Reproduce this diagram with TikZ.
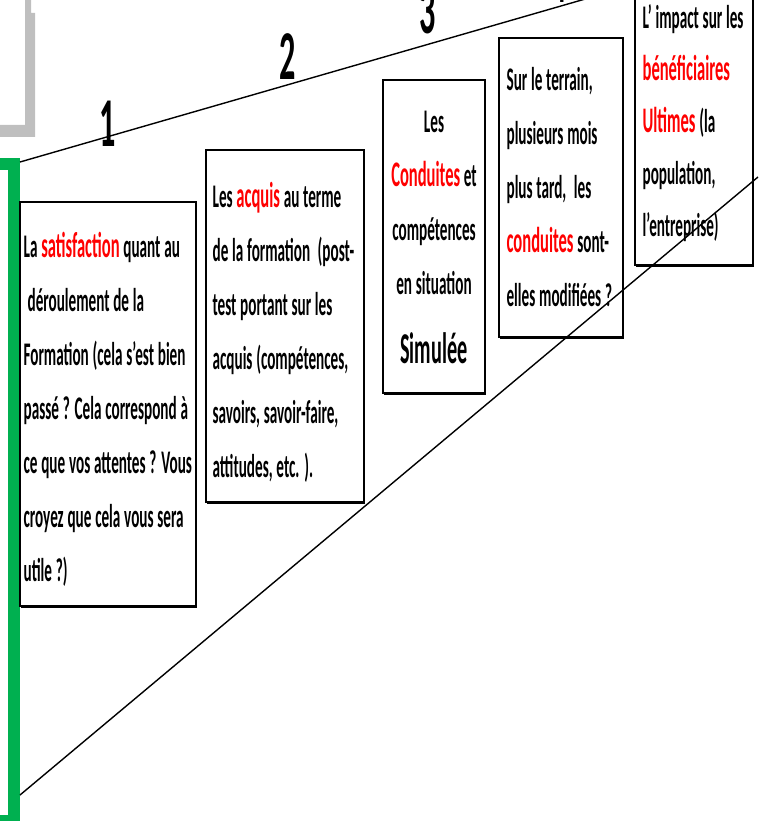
\documentclass[tikz,border=0pt]{standalone}
\usepackage{fontspec}
\setmainfont{Carlito}[FakeStretch=0.46, WordSpace=1.1]
\usepackage{xcolor}
\usetikzlibrary{
    shadows,
    positioning
}
\definecolor{officegreen}{HTML}{00B050}
\definecolor{framegray}{HTML}{BFBFBF}
\newcommand{\kw}[1]{{\color{red}\fontsize{36}{54}\selectfont #1}}
\tikzset{stagebox/.style={draw=black, line width=1.2pt, fill=white, inner sep=0pt, drop shadow={shadow xshift=0.8pt, shadow yshift=-1.6pt, fill=black, opacity=1}}}
\tikzset{stagetext/.style={inner sep=0pt, align=left, font=\bfseries\fontsize{33}{54}\selectfont}}
\tikzset{stagenum/.style={inner sep=0pt, font=\bfseries\fontsize{70}{70}\selectfont}}
\tikzset{slope/.style={draw=black, line width=1.4pt}}

\begin{document}
\begin{tikzpicture}[x=1pt, y=-1pt]
                        \useasboundingbox (0, 0) rectangle (769, 821);
                        \clip (0, 0) rectangle (769, 821);

                        \draw[officegreen, line width=12pt] (-40, 164) rectangle (14, 821);
                        \fill[framegray] (0, 137) -- (35, 137) -- (35, 13) -- (31, 13) -- (31, 0)
                            -- (25, 0) -- (25, 125) -- (0, 125) -- cycle;

                        \node[stagebox, minimum width=176pt, minimum height=404pt] (s1) at (108, 404) {};
                        \node[stagebox, minimum width=158pt, minimum height=352pt] (s2) at (285, 326) {};
                        \node[stagebox, minimum width=102pt, minimum height=313pt] (s3) at (434, 236.5) {};
                        \node[stagebox, minimum width=124pt, minimum height=299pt] (s4) at (561, 187.5) {};
                        \node[stagebox, minimum width=118pt, minimum height=290pt] (s5) at (694, 120) {};

                        \node[stagetext, right=4pt of s1.west, yshift=-5pt] (t1)
                            {La \kw{satisfaction} quant au\\
                             \hspace{4pt}déroulement de la\\
                             Formation (cela s’est bien\\
                             passé ? Cela correspond à\\
                             ce que vos attentes ? Vous\\
                             croyez que cela vous sera\\
                             utile ?)};
                        \node[stagetext, right=7pt of s2.west, yshift=-6pt] (t2)
                            {Les \kw{acquis} au terme\\
                             de la formation \ (post-\\
                             test portant sur les\\
                             acquis (compétences,\\
                             savoirs, savoir-faire,\\
                             attitudes, etc. ).};
                        \node[stagetext, align=center, yshift=-1pt] (t3) at (s3)
                            {Les\\
                             \kw{Conduites} et\\
                             compétences\\
                             en situation\\[15pt]
                             {\fontsize{44}{54}\selectfont Simulée}};
                        \node[stagetext, right=8pt of s4.west] (t4)
                            {Sur le terrain,\\
                             plusieurs mois\\
                             plus tard, \ les\\
                             \kw{conduites} sont-\\
                             elles modifiées ?};
                        \node[stagetext, right=8pt of s5.west, yshift=-3pt, font=\bfseries\fontsize{33}{52}\selectfont] (t5)
                            {L’ impact sur les\\
                             \kw{bénéficiaires}\\
                             \kw{Ultimes} (la\\
                             population,\\
                             l’entreprise)};

                        \coordinate (top0) at (20, 162);
                        \coordinate (top1) at (769, -54);
                        \coordinate (low0) at (20, 795);
                        \coordinate (low1) at (758, 177);
                        \draw[slope] (top0) -- (top1);
                        \draw[slope] (low0) -- (low1);

                        \node[stagenum] (n1) at (108, 124) {1};
                        \node[stagenum] (n2) at (288, 57) {2};
                        \node[stagenum] (n3) at (428, 11) {3};
                        \node[stagenum] (n4) at (559, -20) {4};
                    \end{tikzpicture}
\end{document}
